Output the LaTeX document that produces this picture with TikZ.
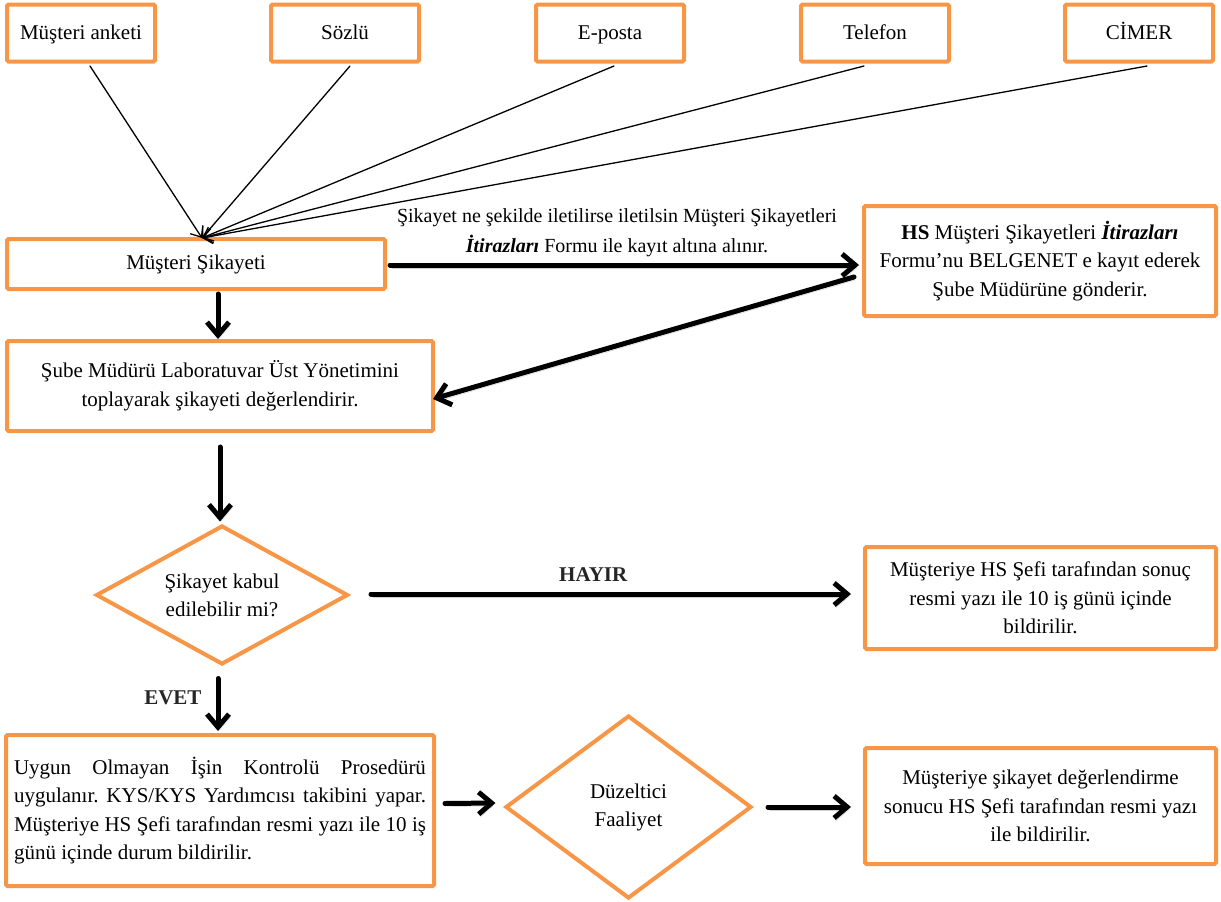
\documentclass[tikz,border=0pt]{standalone}
\usepackage{fontspec}
\setmainfont{Liberation Serif}
\usetikzlibrary{arrows.meta,shapes.geometric,calc}
\definecolor{boxorange}{HTML}{F79646}
\frenchspacing
\begin{document}
\begin{tikzpicture}[x=1pt,y=-1pt,
  box/.style={draw=boxorange, line width=4pt, rounded corners=1.5pt, inner sep=0pt,
    align=center, fill=white, font=\fontsize{21}{28.5}\selectfont},
  src/.style={box, minimum width=148pt, minimum height=57pt, text height=16pt, text depth=4pt},
  dec/.style={diamond, draw=boxorange, line width=4pt, inner sep=0pt, align=center,
    fill=white, font=\fontsize{21}{28}\selectfont},
  thinarrow/.style={line width=1.3pt, line cap=round,
    -{Straight Barb[length=9pt,width=15pt]}},
  bigarrow/.style={line width=5pt, line cap=round, line join=round,
    -{Straight Barb[length=13pt,width=22pt]},
    preaction={draw=black, opacity=0.18, transform canvas={shift={(1.5pt,-3pt)}}}},
  lbl/.style={inner sep=0pt, font=\fontsize{21}{28}\selectfont\bfseries, text=black!85},
]
\useasboundingbox (0,0) rectangle (1221,902);

% top sources
\node[src] (anket) at (81,33) {Müşteri anketi};
\node[src] (sozlu) at (345,33) {Sözlü};
\node[src] (eposta) at (610,33) {E-posta};
\node[src] (telefon) at (875,33) {Telefon};
\node[src] (cimer) at (1139,33) {CİMER};

% main boxes
\node[box, minimum width=378pt, minimum height=50pt] (sikayet) at (196,264) {Müşteri Şikayeti};
\node[box, minimum width=352pt, minimum height=110pt] (hs) at (1040,261)
  {\textbf{HS} Müşteri Şikayetleri \textbf{\textit{İtirazları}}\\Formu’nu BELGENET e kayıt ederek\\Şube Müdürüne gönderir.};
\node[box, minimum width=426pt, minimum height=90pt] (sube) at (220,386)
  {Şube Müdürü Laboratuvar Üst Yönetimini\\toplayarak şikayeti değerlendirir.};
\node[dec, aspect=1.8, minimum width=252pt, minimum height=139pt] (dia1) at (222,595)
  {Şikayet kabul\\edilebilir mi?};
\node[box, minimum width=351pt, minimum height=102pt] (rb2) at (1040.5,598)
  {Müşteriye HS Şefi tarafından sonuç\\resmi yazı ile 10 iş günü içinde\\bildirilir.};
\node[box, minimum width=428pt, minimum height=151pt, text width=412pt, align=justify] (uygun) at (220,810.5)
  {\hyphenpenalty=10000 Uygun Olmayan İşin Kontrolü Prosedürü\linebreak uygulanır. KYS/KYS Yardımcısı takibini yapar.\linebreak Müşteriye HS Şefi tarafından resmi yazı ile 10 iş\linebreak günü içinde durum bildirilir.};
\node[dec, aspect=1.35, minimum width=246pt, minimum height=183pt] (dia2) at (628.5,807)
  {Düzeltici\\Faaliyet};
\node[box, minimum width=351pt, minimum height=116pt] (rb3) at (1040.5,806)
  {Müşteriye şikayet değerlendirme\\sonucu HS Şefi tarafından resmi yazı\\ile bildirilir.};

% converging thin arrows
\coordinate (conv) at (202,238);
\draw[thinarrow] ($(anket.south)+(9,2.5)$) -- (conv);
\draw[thinarrow] ($(sozlu.south)+(5,2.5)$) -- (conv);
\draw[thinarrow] ($(eposta.south)+(4,2.5)$) -- (conv);
\draw[thinarrow] ($(telefon.south)+(-11,2.5)$) -- (conv);
\draw[thinarrow] ($(cimer.south)+(8,2.5)$) -- (conv);

% thick arrows
\draw[bigarrow] ($(sikayet.east)+(3,1)$) -- ($(hs.west)+(-3,4)$);
\node[inner sep=0pt, align=center, font=\fontsize{20}{30}\selectfont] (note) at (617,233)
  {Şikayet ne şekilde iletilirse iletilsin Müşteri Şikayetleri\\\textbf{\textit{İtirazları}} Formu ile kayıt altına alınır.};
\draw[bigarrow] ($(hs.west)+(-8,16)$) -- ($(sube.east)+(-2,13)$);
\draw[bigarrow] ($(sikayet.south)+(22,3)$) -- ($(sube.north)+(-2,0)$);
\draw[bigarrow] ($(sube.south)+(0,14)$) -- ($(dia1.north)+(-2,-2)$);
\draw[bigarrow] ($(dia1.east)+(21,-1)$) -- node[pos=0.463, above=10pt, lbl] (hayir) {HAYIR} ($(rb2.west)+(-12,-4)$);
\draw[bigarrow] ($(dia1.south)+(-4,12)$) -- node[pos=0.36, left=14pt, lbl] (evet) {EVET} ($(uygun.north)+(-2,-2)$);
\draw[bigarrow] ($(uygun.east)+(9,-7)$) -- ($(dia2.west)+(-8,-4)$);
\draw[bigarrow] ($(dia2.east)+(14.5,0)$) -- ($(rb3.west)+(-12,1)$);
\end{tikzpicture}
\end{document}
